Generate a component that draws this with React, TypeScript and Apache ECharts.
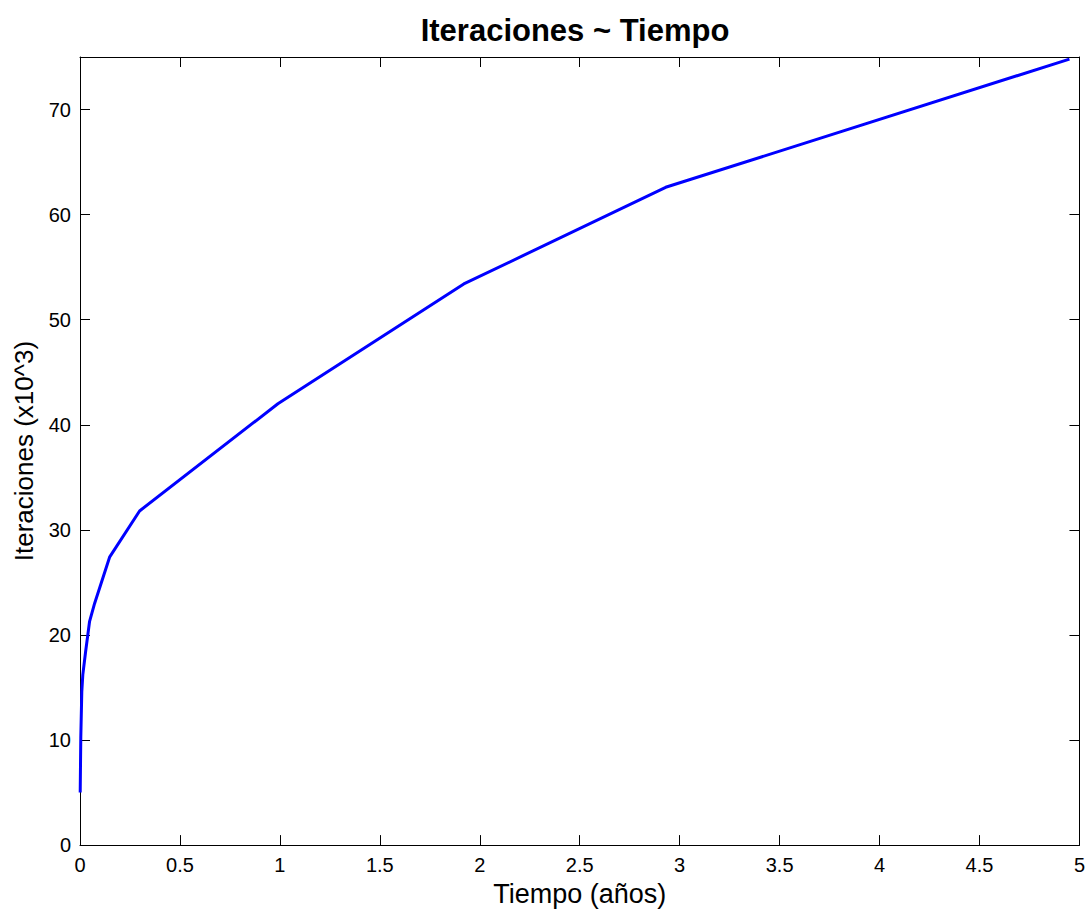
import React, { useEffect, useRef } from "react";
import * as echarts from "echarts";

const titleText = "Iteraciones ~ Tiempo";
const xName = "Tiempo (años)";
const yName = "Iteraciones (x10^3)";

// Tiempo (años)
const tiempo = [0.001, 0.004, 0.009, 0.014, 0.028, 0.048, 0.073, 0.148, 0.298, 0.99, 1.92, 2.93, 4.95];
// Iteraciones (x10^3)
const iteraciones = [5.0, 10.3, 14.6, 16.2, 18.4, 21.3, 23.0, 27.4, 31.8, 42.0, 53.4, 62.6, 74.8];

export default function App() {
  const ref = useRef<HTMLDivElement>(null);
  useEffect(() => {
    document.body.style.margin = "0";
    const chart = echarts.init(ref.current!, null, { renderer: "svg" });
    const font = "Liberation Sans, Arial, Helvetica, sans-serif";
    const axisCommon = {
      axisLine: { show: true, onZero: false, lineStyle: { color: "#000", width: 1 } },
      axisTick: { show: true, inside: true, length: 10, lineStyle: { color: "#000", width: 1 } },
      splitLine: { show: false },
    };
    chart.setOption({
      animation: false,
      backgroundColor: "#fff",
      grid: { left: 80, right: 8, top: 57, bottom: 65, containLabel: false },
      graphic: [
        {
          type: "text",
          x: 575,
          y: 30,
          style: {
            text: titleText,
            font: `bold 31px ${font}`,
            fill: "#000",
            textAlign: "center",
            textVerticalAlign: "middle",
          },
        },
      ],
      xAxis: [
        {
          type: "value",
          min: 0,
          max: 5,
          interval: 0.5,
          position: "bottom",
          name: xName,
          nameLocation: "middle",
          nameGap: 34,
          nameTextStyle: { fontFamily: font, fontSize: 27, color: "#000" },
          axisLabel: { fontFamily: font, fontSize: 20, color: "#000", margin: 10 },
          ...axisCommon,
        },
        {
          type: "value",
          min: 0,
          max: 5,
          interval: 0.5,
          position: "top",
          axisLabel: { show: false },
          ...axisCommon,
        },
      ],
      yAxis: [
        {
          type: "value",
          min: 0,
          max: 75,
          interval: 10,
          position: "left",
          name: yName,
          nameLocation: "middle",
          nameGap: 43,
          nameTextStyle: { fontFamily: font, fontSize: 26, color: "#000" },
          axisLabel: { fontFamily: font, fontSize: 20, color: "#000", margin: 9, showMaxLabel: false },
          ...axisCommon,
        },
        {
          type: "value",
          min: 0,
          max: 75,
          interval: 10,
          position: "right",
          axisLabel: { show: false },
          ...axisCommon,
        },
      ],
      series: [
        {
          type: "line",
          xAxisIndex: 0,
          yAxisIndex: 0,
          data: tiempo.map((t, i) => [t, iteraciones[i]]),
          showSymbol: false,
          symbol: "none",
          lineStyle: { color: "#0000ff", width: 3 },
          itemStyle: { color: "#0000ff" },
        },
      ],
    });
    return () => chart.dispose();
  }, []);
  return <div ref={ref} style={{ width: 1088, height: 912 }} />;
}
